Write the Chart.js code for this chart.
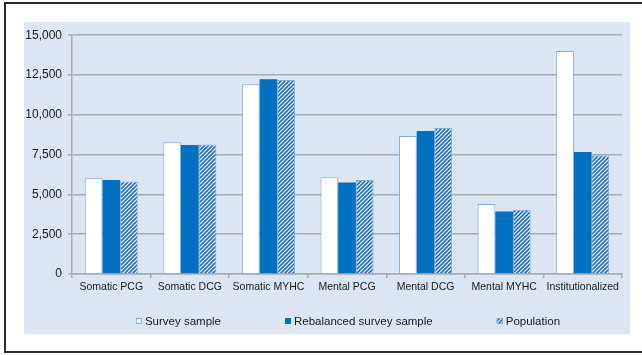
<!DOCTYPE html>
<html>
<head>
<meta charset="utf-8">
<script src="https://cdn.jsdelivr.net/npm/chart.js@4/dist/chart.umd.min.js"></script>
<style>
  html, body { margin: 0; padding: 0; background: #fff; width: 642px; height: 355px; overflow: hidden; }
  .frame { position: absolute; left: 4px; top: 2px; width: 660px; height: 347px; border: 2px solid #2b2b2b; }
  .panel { position: absolute; left: 24px; top: 22px; width: 606px; height: 312px; background: #dce6f2; }
  canvas { display: block; }
</style>
</head>
<body>
<div class="frame"></div>
<div class="panel"><canvas id="chart" width="606" height="312"></canvas></div>
<script>
// Categories and series values
const categories = ['Somatic PCG', 'Somatic DCG', 'Somatic MYHC', 'Mental PCG', 'Mental DCG', 'Mental MYHC', 'Institutionalized'];
const surveySample = [6020, 8270, 11920, 6080, 8670, 4400, 14000];
const rebalancedSample = [5900, 8100, 12230, 5750, 8980, 3920, 7660];
const population = [5810, 8130, 12190, 5900, 9170, 4040, 7440];
const seriesNames = ['Survey sample', 'Rebalanced survey sample', 'Population'];

// Value axis range
const yMin = 0;
const yMax = 15000;
const yStep = 2500;

const FONT = "'Liberation Sans', Arial, Helvetica, sans-serif";
const GRID = '#a7abb0';
const EDGE = '#7fb0da';
const BLUE = '#0070c0';

// Diagonal hatch fill
function hatchPattern(ctx) {
  const c = document.createElement('canvas');
  c.width = 4; c.height = 4;
  const g = c.getContext('2d');
  g.fillStyle = '#ffffff';
  g.fillRect(0, 0, 4, 4);
  g.strokeStyle = '#1c6dbf';
  g.lineWidth = 1.6;
  g.beginPath();
  g.moveTo(0, 4); g.lineTo(4, 0);
  g.moveTo(-1, 1); g.lineTo(1, -1);
  g.moveTo(3, 5); g.lineTo(5, 3);
  g.stroke();
  return ctx.createPattern(c, 'repeat');
}

const canvas = document.getElementById('chart');
const ctx = canvas.getContext('2d');
const hatch = hatchPattern(ctx);

// Legend drawn below the plot, spaced like the original layout
const bottomLegend = {
  id: 'bottomLegend',
  afterDraw(chart) {
    const c = chart.ctx;
    const box = 6, textGap = 3, itemGap = 64;
    c.save();
    c.font = '11.5px ' + FONT;
    c.textBaseline = 'middle';
    c.textAlign = 'left';
    const widths = chart.data.datasets.map(ds => box + textGap + c.measureText(ds.label).width);
    const total = widths.reduce((a, b) => a + b, 0) + itemGap * (widths.length - 1);
    const area = chart.chartArea;
    let x = (area.left + area.right) / 2 - total / 2 + 1;
    const y = 299;
    chart.data.datasets.forEach((ds, i) => {
      c.fillStyle = ds.backgroundColor;
      c.fillRect(x, y - box / 2, box, box);
      c.strokeStyle = ds.borderColor;
      c.lineWidth = 1;
      c.strokeRect(x + 0.5, y - box / 2 + 0.5, box - 1, box - 1);
      c.fillStyle = '#1a1a1a';
      c.fillText(ds.label, x + box + textGap, y + 0.5);
      x += widths[i] + itemGap;
    });
    c.restore();
  }
};

new Chart(ctx, {
  type: 'bar',
  data: {
    labels: categories,
    datasets: [
      { label: seriesNames[0], data: surveySample, backgroundColor: '#ffffff', borderColor: EDGE, borderWidth: 1 },
      { label: seriesNames[1], data: rebalancedSample, backgroundColor: BLUE, borderColor: BLUE, borderWidth: 0 },
      { label: seriesNames[2], data: population, backgroundColor: hatch, borderColor: EDGE, borderWidth: 1 }
    ]
  },
  options: {
    responsive: false,
    animation: false,
    devicePixelRatio: 1,
    layout: { padding: { left: 0, right: 8, top: 12, bottom: 36 } },
    datasets: { bar: { barPercentage: 1, categoryPercentage: 0.675 } },
    plugins: {
      legend: { display: false },
      tooltip: { enabled: false }
    },
    scales: {
      x: {
        offset: true,
        grid: { display: true, drawOnChartArea: false, drawTicks: true, tickLength: 4, color: GRID, lineWidth: 1.5, offset: true },
        border: { display: true, color: GRID, width: 1.5 },
        ticks: { color: '#1a1a1a', font: { family: FONT, size: 10.5 }, padding: 3, maxRotation: 0, autoSkip: false },
        afterFit(scale) { scale.height = 24; }
      },
      y: {
        min: yMin,
        max: yMax,
        grid: { color: GRID, lineWidth: 1.5, tickLength: 4 },
        border: { display: true, color: GRID, width: 1.5 },
        ticks: {
          stepSize: yStep,
          color: '#1a1a1a',
          font: { family: FONT, size: 12 },
          padding: 6,
          callback: v => v.toLocaleString('en-US')
        },
        afterFit(scale) { scale.width = 48; }
      }
    }
  },
  plugins: [bottomLegend]
});
</script>
</body>
</html>
